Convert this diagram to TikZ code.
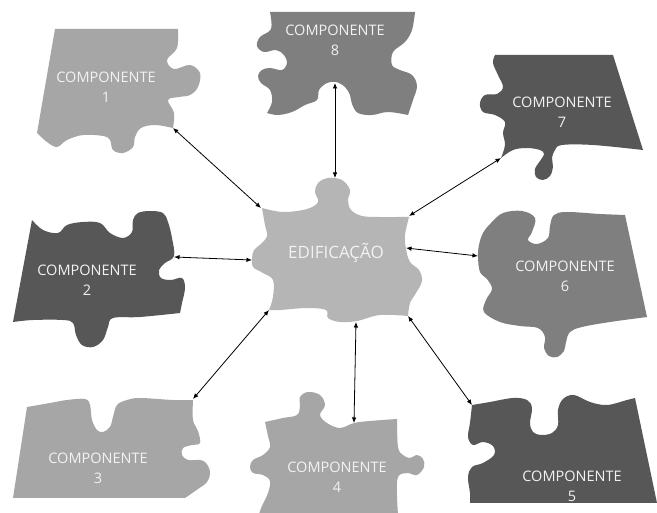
\documentclass[tikz,border=0pt]{standalone}
\usepackage{fontspec}
\setmainfont{Open Sans}
\usetikzlibrary{arrows.meta}
\definecolor{pieceLight}{HTML}{A6A6A6}
\definecolor{pieceCore}{HTML}{B5B5B5}
\definecolor{pieceMid}{HTML}{7F7F7F}
\definecolor{pieceDark}{HTML}{575757}
\definecolor{labelInk}{HTML}{F2F2F2}
\tikzset{
  label/.style={text=labelInk, align=center, inner sep=0pt,
    font=\fontsize{14.5}{20}\selectfont},
  corelabel/.style={text=labelInk, inner sep=0pt,
    font=\fontsize{17}{20}\selectfont},
  link/.style={line width=0.8pt, black,
    {Latex[length=5.5pt,width=4.5pt]}-{Latex[length=5.5pt,width=4.5pt]}},
  edge/.style={smooth, tension=0.6}
}
\begin{document}
\begin{tikzpicture}[x=1pt, y=-1pt]
\fill[white] (0,0) rectangle (657,513);
\useasboundingbox (0,0) rectangle (657,513);

% piece 1 (top left)
\fill[pieceLight] (37,133) -- (55,29) -- (178,29)
  -- plot[edge] coordinates {(178,29) (177,48) (167,60) (174,69) (190,65) (200,73) (198,87) (190,95) (179,97) (168,100) (174,113) (173,128)}
  -- plot[edge] coordinates {(173,128) (155,125) (141,128) (135,137) (133,147) (123,153) (113,150) (110,140) (103,136) (83,135) (67,140) (57,147) (47,142) (37,133)}
  -- cycle;

% piece 8 (top centre)
\fill[pieceMid] (270,12) -- (415,12)
  -- plot[edge] coordinates {(415,12) (412,30) (405,42) (393,52) (392,65) (400,70) (412,75) (417,86) (413,100) (408,115)}
  -- plot[edge] coordinates {(408,115) (388,112) (372,115) (358,113) (352,104) (350,95) (345,87) (336,82) (327,83) (319,90) (317,100) (305,105) (292,112) (278,115) (267,113)}
  -- plot[edge] coordinates {(267,113) (272,102) (270,90) (261,83) (258,76) (262,70) (270,68) (282,70) (287,63) (284,55) (276,50) (264,52) (257,46) (260,37) (271,29) (270,12)}
  -- cycle;

% piece 7 (top right)
\fill[pieceDark] (495,55) -- (613,55) -- (643,150)
  -- plot[edge] coordinates {(643,150) (593,145) (562,145) (555,150) (552,158) (553,167) (550,176) (543,180) (536,177) (535,169) (540,161) (544,154) (540,150) (527,148) (513,150) (501,158)}
  -- plot[edge] coordinates {(501,158) (505,145) (503,133) (505,122) (495,115) (483,112) (480,103) (485,95) (497,94) (503,87) (498,75) (493,63) (495,55)}
  -- cycle;

% piece 2 (left)
\fill[pieceDark] (13,322) -- (32,220)
  -- plot[edge] coordinates {(32,220) (43,230) (58,233) (67,225) (83,222) (100,223) (110,233) (123,238) (132,232) (133,220) (138,213) (150,211) (163,213) (168,222) (172,238) (174,256) (165,263) (159,270) (161,278) (171,280) (182,278) (185,288) (182,303) (180,313)}
  -- plot[edge] coordinates {(180,313) (140,317) (113,318) (108,327) (103,340) (93,347) (82,345) (76,335) (73,323) (63,320) (33,320) (13,322)}
  -- cycle;

% piece 6 (right)
\fill[pieceMid] (625,215) -- (647,317)
  -- plot[edge] coordinates {(647,317) (610,322) (582,327) (570,332) (566,342) (564,351) (557,357) (549,356) (544,348) (545,337) (538,328) (520,326) (500,322) (484,312) (486,300) (492,289) (487,279) (480,272) (478,257) (479,245) (483,233) (491,223) (503,213) (522,211) (535,218) (532,232) (528,240) (537,244) (548,238) (550,226) (554,215) (567,212) (600,214) (625,215)}
  -- cycle;

% piece 3 (bottom left)
\fill[pieceLight] (13,498) -- (27,407)
  -- plot[edge] coordinates {(27,407) (50,403) (67,400) (85,399) (90,405) (92,420) (97,430) (103,432) (110,427) (113,417) (117,405) (127,400) (140,398) (173,400) (193,400)}
  -- plot[edge] coordinates {(193,400) (193,420) (198,431) (200,443) (192,445) (183,448) (182,455) (188,460) (200,460) (206,463) (210,472) (207,482) (198,489) (185,498)}
  -- cycle;

% piece 4 (bottom centre)
\fill[pieceLight] (259,514)
  -- plot[edge] coordinates {(259,514) (262,506) (268,493) (270,481) (263,475) (253,473) (250,467) (253,460) (263,455) (270,447) (268,436) (265,422)}
  -- plot[edge] coordinates {(265,422) (283,418) (297,415) (300,406) (300,397) (308,392) (320,395) (325,405) (320,415) (327,423) (340,428) (354,423) (370,421) (397,419)}
  -- plot[edge] coordinates {(397,419) (398,447) (403,455) (410,458) (417,455) (423,459) (424,467) (417,475) (407,473) (398,477) (397,495) (398,514)}
  -- cycle;

% piece 5 (bottom right)
\fill[pieceDark] (635,398) -- (657,503) -- (470,503)
  -- plot[edge] coordinates {(470,503) (470,493) (468,477) (472,467) (483,463) (494,455) (493,446) (483,442) (473,445) (468,437) (470,423) (472,405)}
  -- plot[edge] coordinates {(472,405) (490,402) (513,398) (527,400) (532,408) (530,423) (533,432) (541,435) (552,433) (558,425) (558,410) (563,399) (574,395) (590,402) (607,405) (627,400) (635,398)}
  -- cycle;

% central piece
\fill[pieceCore] (262,208)
  -- plot[edge] coordinates {(262,208) (283,212) (307,209) (318,202) (315,192) (318,183) (328,178) (342,180) (350,190) (348,200) (351,210) (362,216) (380,217) (397,217) (409,217)}
  -- plot[edge] coordinates {(409,217) (405,235) (406,249) (410,262) (419,270) (422,281) (416,293) (410,303) (408,316)}
  -- plot[edge] coordinates {(408,316) (380,315) (357,321) (340,322) (328,318) (326,310) (307,308) (280,310) (269,310)}
  -- plot[edge] coordinates {(269,310) (273,297) (273,280) (263,273) (253,267) (252,259) (254,250) (261,244) (267,236) (265,225) (262,208)}
  -- cycle;

% labels
\node[corelabel] (edif) at (336,253) {EDIFICAÇÃO};
\node[label] (c1) at (106,87) {COMPONENTE\\1};
\node[label] (c8) at (335,40) {COMPONENTE\\8};
\node[label] (c7) at (562,112) {COMPONENTE\\7};
\node[label] (c2) at (87,280) {COMPONENTE\\2};
\node[label] (c6) at (565,276) {COMPONENTE\\6};
\node[label] (c3) at (98,468) {COMPONENTE\\3};
\node[label] (c4) at (337,477) {COMPONENTE\\4};
\node[label] (c5) at (572,486) {COMPONENTE\\5};

% connector end points on the piece outlines
\coordinate (p1) at (173,128); \coordinate (e1) at (261,208);
\coordinate (p8) at (335,83);  \coordinate (e8) at (335,178);
\coordinate (p7) at (501,158); \coordinate (e7) at (409,216);
\coordinate (p2) at (174,257); \coordinate (e2) at (252,260);
\coordinate (p6) at (478,256); \coordinate (e6) at (406,248);
\coordinate (p3) at (193,399); \coordinate (e3) at (269,310);
\coordinate (p4) at (354,423); \coordinate (e4) at (356,322);
\coordinate (p5) at (472,405); \coordinate (e5) at (408,316);

\foreach \i in {1,...,8} {
  \draw[link] (p\i) -- (e\i);
}
\end{tikzpicture}
\end{document}
